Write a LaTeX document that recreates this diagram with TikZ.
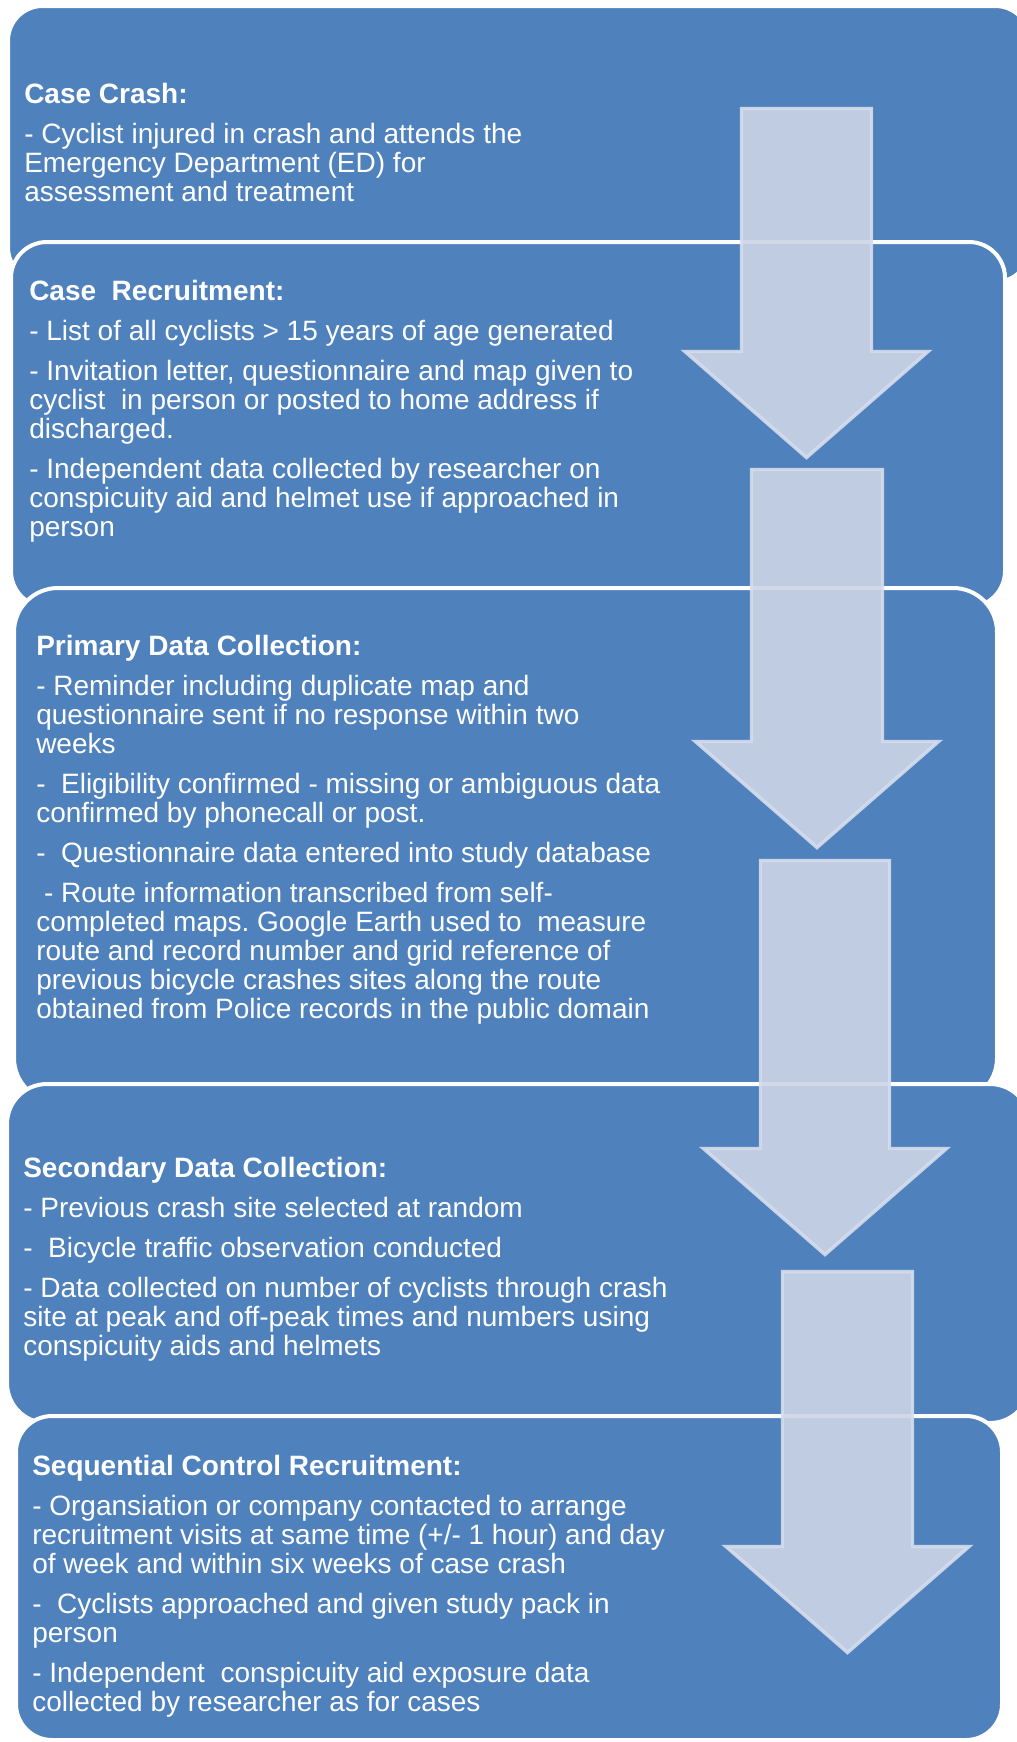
\documentclass[tikz,border=0pt]{standalone}
\usepackage{fontspec}
\setmainfont{Liberation Sans}
\usepackage{tikz}
\frenchspacing

\definecolor{boxblue}{RGB}{79,129,189}
\definecolor{arrowfill}{RGB}{205,213,230}
\definecolor{arrowline}{RGB}{214,221,237}

\begin{document}
\begin{tikzpicture}[x=0.75pt,y=0.75pt,yscale=-1,xscale=1,
  procbox/.style={draw=white, line width=3pt, fill=boxblue},
  downarrow/.style={draw=arrowline, line width=2.6pt, fill=arrowfill, fill opacity=0.9, draw opacity=0.9, line join=miter},
  boxtext/.style={anchor=base west, inner sep=0pt, align=left, text=white, font=\fontsize{21}{21.75}\selectfont}]
%set diagram size to the reference page
\useasboundingbox (0,0) rectangle (1017,1742);

%Shape: Rounded Rect [case crash]
\draw [procbox, rounded corners=26pt] (8,6) rectangle (1030,282) ;
%Shape: Rounded Rect [case recruitment]
\draw [procbox, rounded corners=27pt] (11,242) rectangle (1005,607) ;
%Shape: Rounded Rect [primary data]
\draw [procbox, rounded corners=33pt] (14,588) rectangle (997,1102) ;
%Shape: Rounded Rect [secondary data]
\draw [procbox, rounded corners=30pt] (7,1084) rectangle (1030,1423) ;
%Shape: Rounded Rect [control recruitment]
\draw [procbox, rounded corners=27pt] (16,1416) rectangle (1002,1740) ;

%Shape: Down Arrow [1]
\draw [downarrow] (741.5,108.5) -- (871.5,108.5) -- (871.5,351.5) -- (928,351.5) -- (806.5,457.5) -- (685,351.5) -- (741.5,351.5) -- cycle ;
%Shape: Down Arrow [2]
\draw [downarrow] (751.5,469.5) -- (882.5,469.5) -- (882.5,741.5) -- (938.5,741.5) -- (817,847.5) -- (695.5,741.5) -- (751.5,741.5) -- cycle ;
%Shape: Down Arrow [3]
\draw [downarrow] (760.5,860.5) -- (889.5,860.5) -- (889.5,1148.5) -- (946.5,1148.5) -- (825,1254.5) -- (703.5,1148.5) -- (760.5,1148.5) -- cycle ;
%Shape: Down Arrow [4]
\draw [downarrow] (782.5,1271.5) -- (912.5,1271.5) -- (912.5,1546.5) -- (969,1546.5) -- (847.5,1652.5) -- (726,1546.5) -- (782.5,1546.5) -- cycle ;

% Text Node (placed at the baseline of its last line)
\node [boxtext] (crash) at (24,201) {\textbf{Case Crash:}\\[8.25pt]
- Cyclist injured in crash and attends the\\Emergency Department (ED) for\\assessment and treatment};
% Text Node
\node [boxtext] (recruit) at (29,536) {\textbf{Case\ \ Recruitment:}\\[8.25pt]
- List of all cyclists > 15 years of age generated\\[8.25pt]
- Invitation letter, questionnaire and map given to\\cyclist\ \ in person or posted to home address if\\discharged.\\[8.25pt]
- Independent data collected by researcher on\\conspicuity aid and helmet use if approached in\\person};
% Text Node
\node [boxtext] (primary) at (36,1018) {\textbf{Primary Data Collection:}\\[8.25pt]
- Reminder including duplicate map and\\questionnaire sent if no response within two\\weeks\\[8.25pt]
-\ \ Eligibility confirmed - missing or ambiguous data\\confirmed by phonecall or post.\\[8.25pt]
-\ \ Questionnaire data entered into study database\\[8.25pt]
\ - Route information transcribed from self-\\completed maps. Google Earth used to\ \ measure\\route and record number and grid reference of\\previous bicycle crashes sites along the route\\obtained from Police records in the public domain};
% Text Node
\node [boxtext] (secondary) at (23,1355) {\textbf{Secondary Data Collection:}\\[8.25pt]
- Previous crash site selected at random\\[8.25pt]
-\ \ Bicycle traffic observation conducted\\[8.25pt]
- Data collected on number of cyclists through crash\\site at peak and off-peak times and numbers using\\conspicuity aids and helmets};
% Text Node
\node [boxtext] (control) at (32,1711) {\textbf{Sequential Control Recruitment:}\\[8.25pt]
- Organsiation or company contacted to arrange\\recruitment visits at same time (+/- 1 hour) and day\\of week and within six weeks of case crash\\[8.25pt]
-\ \ Cyclists approached and given study pack in\\person\\[8.25pt]
- Independent\ \ conspicuity aid exposure data\\collected by researcher as for cases};

\end{tikzpicture}
\end{document}
